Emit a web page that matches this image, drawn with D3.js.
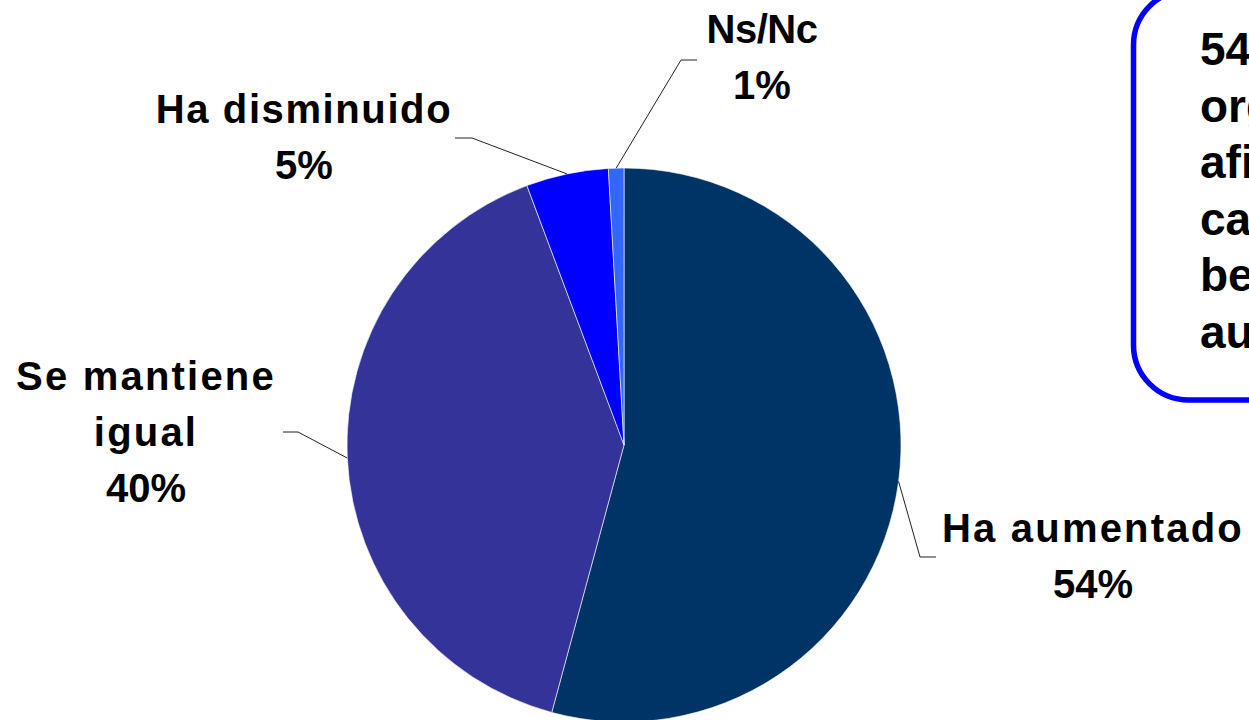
<!DOCTYPE html>
<html>
<head>
<meta charset="utf-8">
<script src="https://cdn.jsdelivr.net/npm/d3@7"></script>
<style>
  html, body { margin: 0; padding: 0; background: #ffffff; overflow: hidden; }
  svg { display: block; }
  text { font-family: "Liberation Sans", Arial, sans-serif; font-weight: bold; fill: #000; }
</style>
</head>
<body>
<svg id="chart" width="1249" height="720"></svg>
<script>
// ---- data ----
const categories = ["Ha aumentado", "Se mantiene igual", "Ha disminuido", "Ns/Nc"];
const values = [54.2, 40.1, 4.8, 0.9];
const percentLabels = ["54%", "40%", "5%", "1%"];
const labelLines = [["Ha aumentado"], ["Se mantiene", "igual"], ["Ha disminuido"], ["Ns/Nc"]];
const colors = ["#003366", "#333399", "#0000FF", "#3366FF"];
const noteLines = ["54% de las", "organizaciones", "afirma que la", "cantidad de", "beneficiarios ha", "aumentado"];

// ---- layout ----
const svg = d3.select("#chart");
const cx = 624, cy = 445, R = 277;

const pie = d3.pie().sort(null).value(d => d)(values);
const arc = d3.arc().innerRadius(0).outerRadius(R);

const g = svg.append("g").attr("transform", `translate(${cx},${cy})`);
g.selectAll("path.slice")
  .data(pie)
  .join("path")
  .attr("class", "slice")
  .attr("d", arc)
  .attr("fill", (d, i) => colors[i])
  .attr("stroke", "#ffffff")
  .attr("stroke-width", 0.6);

// label layout (elbow, end, text center, first baseline)
const labelLayout = [
  { elbow: [920, 557], end: [936, 557], tx: 1093, ty: 542, ls: 2.2 },
  { elbow: [298, 432], end: [283, 432], tx: 146, ty: 390, ls: 2.2 },
  { elbow: [472, 138], end: [455, 138], tx: 304, ty: 123, ls: 1.6 },
  { elbow: [681, 60], end: [697, 60], tx: 762, ty: 43, ls: -0.5 }
];
const lineGap = 56;

pie.forEach((d, i) => {
  const mid = (d.startAngle + d.endAngle) / 2;
  const sx = cx + R * Math.sin(mid);
  const sy = cy - R * Math.cos(mid);
  const L = labelLayout[i];
  svg.append("polyline")
    .attr("points", `${sx},${sy} ${L.elbow[0]},${L.elbow[1]} ${L.end[0]},${L.end[1]}`)
    .attr("fill", "none")
    .attr("stroke", "#222")
    .attr("stroke-width", 1);

  const lines = labelLines[i].concat([percentLabels[i]]);
  lines.forEach((t, k) => {
    svg.append("text")
      .attr("x", L.tx)
      .attr("y", L.ty + k * lineGap)
      .attr("text-anchor", "middle")
      .attr("font-size", 40)
      .attr("letter-spacing", k === lines.length - 1 ? 0 : L.ls)
      .text(t);
  });
});

// note box
svg.append("rect")
  .attr("x", 1133.5)
  .attr("y", -10)
  .attr("width", 300)
  .attr("height", 410)
  .attr("rx", 55)
  .attr("ry", 55)
  .attr("fill", "#ffffff")
  .attr("stroke", "#0000FF")
  .attr("stroke-width", 5.5);

noteLines.forEach((t, k) => {
  svg.append("text")
    .attr("x", 1200)
    .attr("y", 65 + k * 56.5)
    .attr("font-size", 46)
    .text(t);
});
</script>
</body>
</html>
